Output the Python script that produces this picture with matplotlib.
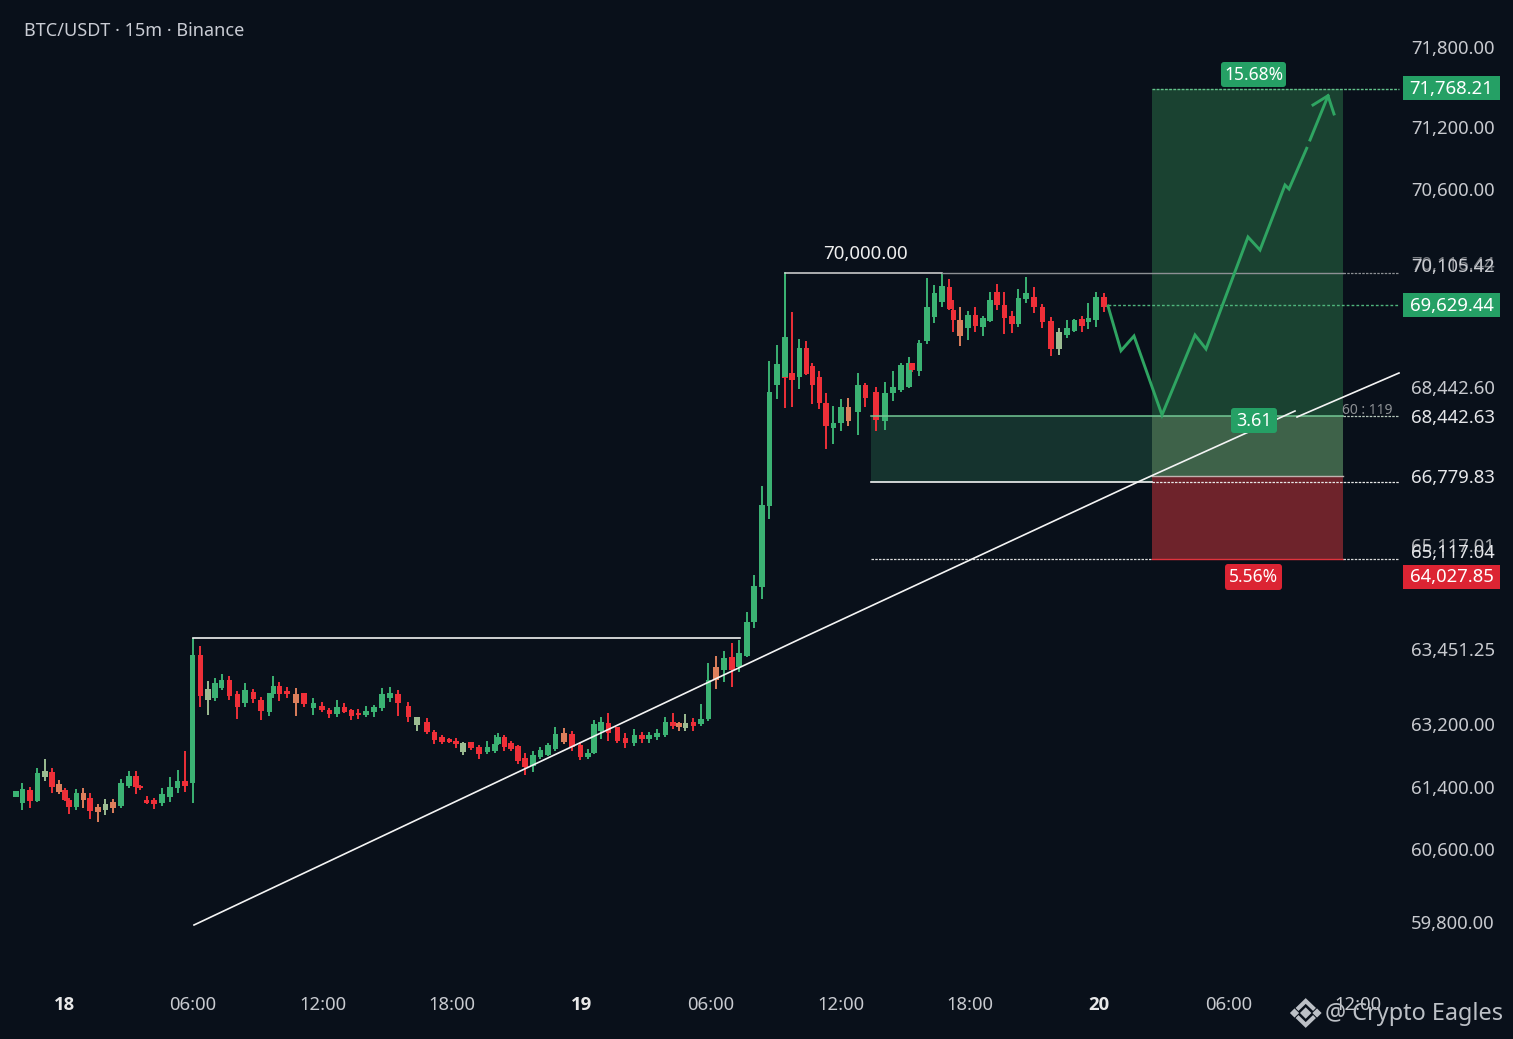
import matplotlib
matplotlib.use('Agg')
import matplotlib.pyplot as plt
from matplotlib.patches import Rectangle, FancyBboxPatch

plt.rcParams['font.family'] = ['Noto Sans', 'DejaVu Sans']

BG = '#09101a'
GREEN = '#3bb273'
RED = '#ee2f38'
ORANGE = '#dc7f5c'
PALE = '#9cbc92'
BADGE_GREEN = '#25a065'
BADGE_RED = '#dc2433'
TICK = '#c8cacf'

# The price scale in the picture is not even, so marks are kept in chart units
# (x along the time axis, y down the price axis) and ticks are labelled by name
candle_x = [15.7, 22.3, 30, 37.3, 44.7, 51.7, 58.7, 64.7, 69, 76.3, 83.3, 90, 97.7, 105.3, 113, 120.7, 128.7, 136, 140,
            146.7, 154, 162, 170, 177.7, 185, 192.7, 200.3, 208, 215, 221.7, 229.3, 237.3, 245, 253.3, 261, 269.3, 273.3,
            279.3, 286.7, 295.7, 304, 313.3, 321.7, 329.3, 337, 344.3, 351.3, 358.3, 366, 374, 382, 390, 398,
            408.3, 416.7, 426.7, 434.3, 442, 449.3, 456, 462.7, 471, 478.7, 487.3, 495, 497.7, 504.3, 511, 517.7, 524.7,
            532.7, 540.3, 548, 555.3, 564, 572, 580.3, 587.7, 594, 600.7, 608.3, 617.3, 625.3, 634.3, 641.7, 649, 657,
            665.3, 672.7, 678.7, 685.3, 693.3, 701, 708.3, 716, 723.7, 731.7, 739, 746.7, 754, 761.7, 769.3, 776.7,
            785, 785, 792, 799.3, 806.3, 812.3, 819.3, 826, 833.3, 840.7, 848.3, 858, 865.3, 876, 884.7, 892.7, 901,
            909, 911.7, 919.3, 926.7, 934.3, 942, 949.3, 953.3, 960, 967.7, 975.3, 982.7, 989.7, 996.7, 1004.3, 1011.7,
            1018.3, 1026, 1034, 1042.3, 1050.7, 1058.7, 1067, 1074.3, 1081.7, 1088.3, 1096, 1103.7]
wick_top = [790.7, 782.7, 786.7, 768, 759.3, 768.3, 780, 788.3, 798.3, 789.3, 788, 793, 804, 799.3, 799.3, 779.3, 770.7, 771, 785,
            796, 797.7, 787.7, 776.7, 770, 750.7, 638.3, 646, 681, 678.3, 674.3, 676, 690.7, 683.3, 689.3, 697.3, 692.7, 676,
            681.7, 687.3, 688.3, 692.7, 698.3, 702.3, 708.3, 700, 703.3, 709, 709, 705.7, 705, 687.7, 687.3, 690,
            701.7, 716.7, 718.3, 730, 735, 737.7, 738.3, 741.7, 741.7, 745, 740.7, 735, 732.7, 735, 741, 745, 752.7,
            750.7, 747.3, 743.3, 727.3, 728.3, 731, 741.7, 749.3, 720, 716.7, 712.7, 726.7, 733.3, 729.3, 731.7, 731.7, 729.3,
            717.3, 713.3, 721.7, 714, 717.7, 704.3, 663.3, 656, 650.7, 642.7, 640, 611.7, 575, 485.7, 361, 345,
            273.3, 376, 311.7, 339.3, 341, 362.7, 371, 392.7, 406, 399.3, 398.3, 372.7, 383.3, 386.7, 381.7, 371, 363.3,
            356.7, 363.3, 340, 278.3, 285, 273.3, 279.3, 300, 306.7, 310.7, 306.7, 316, 291.7, 284, 292.3, 311,
            289.3, 277.3, 286.7, 304, 317.3, 328.3, 320, 319.3, 316, 302.7, 291.7, 293.3]
body_top = [790.7, 789, 790, 772.7, 770.7, 771.7, 784, 790, 800, 793.3, 792.7, 798.3, 807.3, 804, 801.7, 783.3, 776, 776, 785.7,
            800, 800, 794, 786.7, 781, 780.7, 655, 655, 689.3, 683.3, 680, 680, 694, 690, 691.7, 700, 693.3, 686,
            686, 691.3, 694, 693.3, 703.3, 706, 710, 706.7, 707.3, 710, 712.7, 710.7, 707.3, 694.3, 693.3, 694,
            705.7, 717.3, 721.7, 732.3, 737.3, 738.7, 740.7, 742.7, 741.7, 746.7, 746.7, 744, 736.7, 736.7, 742.7, 746, 758.3,
            755, 750, 745, 734, 733.3, 734, 745, 752.7, 724, 722.3, 723.3, 727.3, 738.3, 735, 735, 735, 733.3,
            721.7, 721.7, 723.3, 722.7, 721.7, 719, 680, 666.7, 658.3, 656.7, 653.3, 621.7, 585.7, 505, 392, 364,
            337.3, 376.7, 372.7, 348.3, 348.3, 365.7, 377.3, 402.7, 423.3, 407.3, 406.7, 385.3, 385, 391.7, 392.7, 387.3, 365,
            363.3, 363.3, 343.3, 306.7, 293.3, 286, 287.3, 310, 320, 315, 315, 318.3, 300, 292.3, 305, 315.7,
            297.7, 292.7, 297.3, 307.3, 321, 332.3, 327.7, 320, 319.3, 317.7, 297.3, 297.3]
body_bot = [796.7, 803.3, 801, 801, 776.7, 787.3, 791.7, 800, 807.3, 807.3, 800, 810.7, 811.7, 810, 808.3, 805.7, 786, 786.7, 787.7,
            803.3, 804, 803.3, 796.7, 788.3, 785.7, 782.7, 696, 700, 698.3, 688.3, 696, 707.3, 703.3, 699.3, 711, 711.7, 694,
            694, 694, 702.7, 704, 707.7, 710, 714.3, 714, 711.7, 715.7, 715, 715, 711.7, 707.7, 697.7, 702.7,
            716.7, 725, 732.3, 740, 741.7, 742, 744, 751.7, 748.3, 754, 752.3, 751, 744, 746.7, 749.3, 760.7, 766.7,
            766, 757.3, 755, 749.3, 741.7, 747.3, 757.3, 756.7, 753.3, 731, 733.3, 740.7, 743.3, 742.7, 739.3, 739.3, 736.7,
            735, 726, 727.3, 727.7, 725.7, 724, 719.3, 680, 670, 670, 666.7, 656, 621.7, 586.7, 505.7, 385,
            376.7, 378, 380, 377.3, 374, 385, 402.7, 425.7, 427.7, 423.3, 421, 411.7, 398.3, 420, 421, 393.3, 390,
            386.7, 370, 370.7, 340.7, 317.3, 301.7, 309.3, 320, 336, 328.3, 326, 327.3, 321, 305, 318.3, 324.3,
            324.3, 299.3, 306.7, 322.3, 349, 349.3, 335, 331, 325.7, 322.3, 320, 306.7]
wick_bot = [796.7, 810, 807.7, 802.3, 781, 792.7, 794, 801, 814, 810, 808, 819, 821.7, 815, 812.7, 807.7, 788.3, 794.3, 790,
            804, 809.3, 806, 801.7, 793.3, 791.7, 802.7, 706.7, 715, 700.7, 690, 700, 719.3, 707.3, 702.7, 720, 715.7, 697.7,
            701, 698.3, 715.7, 707.3, 715, 711.7, 717.7, 717.3, 712.7, 720, 719.3, 717.3, 716.7, 711, 701.7, 716,
            721.7, 730.7, 734, 744.3, 744.3, 743.3, 748.3, 755, 750, 759.3, 754, 753.3, 745, 750.7, 750.7, 764, 775,
            771.7, 759.3, 756, 751, 744, 750.7, 760, 759.3, 754, 739.3, 740.7, 742.7, 748.3, 746, 743.3, 742.7, 740,
            736.7, 729.3, 730.7, 730.7, 730.7, 725.7, 720.7, 689, 682.3, 686.7, 671.7, 656.7, 628, 599.3, 519.3, 399.3,
            378, 407.7, 406.7, 389.3, 375, 404, 409.3, 449, 444, 431, 426, 435, 406.7, 430.7, 430, 401, 391.7,
            387.7, 372, 376, 344, 323.3, 306.7, 310, 332, 346, 340, 331.7, 336, 321.7, 310, 334.3, 333.3,
            326.7, 302.7, 313.3, 328.3, 356, 355, 338.3, 331.7, 331.7, 329.3, 326.7, 311.7]
candle_kind = list('GGRGPRORRGOROPOGGRR'
                   'RRGGGRGRPGGRRGRRGG'
                   'RRORGRRGRRRGGGGR'
                   'RPRRRRRPRRGGGRRRR'
                   'GGGGORRGGGRRRGRGG'
                   'GROPRGGOGRGGGGGG'
                   'GRRGRRRRGGOGRRGGG'
                   'GRGGGGRROGRGGRRR'
                   'GGRRRPGGRGGR')

# y-axis labels and their rows
ytick_pos = [47, 127, 189, 265, 387, 416, 476, 551, 649, 724, 787, 849, 922]
ytick_lab = ['71,800.00', '71,200.00', '70,600.00', '70,105.42', '68,442.60', '68,442.63', '66,779.83',
             '65,117.04', '63,451.25', '63,200.00', '61,400.00', '60,600.00', '59,800.00']
xtick_pos = [64, 193, 323, 452, 582, 711, 841, 970, 1099, 1229, 1358]
xtick_lab = ['18', '06:00', '12:00', '18:00', '19', '06:00', '12:00', '18:00', '20', '06:00', '12:00']

path_x = [1108, 1121, 1134, 1162, 1195, 1206, 1248, 1260, 1285, 1289, 1306.7]
path_y = [306, 350.7, 336, 415, 335, 349, 237, 250, 185, 189, 148.3]
path2_x = [1310, 1328]
path2_y = [140, 96]
head_x = [1313, 1328, 1334]
head_y = [105, 95.7, 114]
trend_x = [194, 800, 1140, 1295]
trend_y = [925, 639, 481, 411]
trend2_x = [1297, 1399]
trend2_y = [417, 373]

fig = plt.figure(figsize=(15.13, 10.39), dpi=100, facecolor=BG)
ax = fig.add_axes([0, 1 - 985 / 1039, 1400 / 1513, 985 / 1039], facecolor=BG)
ax.set_xlim(0, 1400)
ax.set_ylim(985, 0)
for s in ax.spines.values():
    s.set_visible(False)

# zones
ax.add_patch(Rectangle((871, 416), 281, 66, fc='#15332e', ec='none', zorder=1))
ax.add_patch(Rectangle((1152, 89), 191, 327, fc='#1a4231', ec='none', zorder=1))
ax.add_patch(Rectangle((1152, 416), 191, 60, fc='#3e6249', ec='none', zorder=1))
ax.add_patch(Rectangle((1152, 476), 191, 83, fc='#6e232b', ec='none', zorder=1))

# candles
colors = {'G': GREEN, 'R': RED, 'O': ORANGE, 'P': PALE}
cols = [colors[k] for k in candle_kind]
ax.vlines(candle_x, wick_top, wick_bot, colors=cols, lw=1.4, zorder=3)
heights = [b - t for t, b in zip(body_top, body_bot)]
ax.bar(candle_x, heights, bottom=body_top, width=5.6, color=cols, lw=0, zorder=3)

# levels
ax.plot([193, 740], [638, 638], color='#f2f2f2', lw=1.2, zorder=4)
ax.plot([785, 785], [273, 340], color=GREEN, lw=1.3, zorder=2)
ax.plot([785, 942], [273, 273], color='#d8d8d8', lw=1.1, zorder=4)
ax.plot([942, 1343], [273, 273], color='#8d9094', lw=1, zorder=4)
ax.plot([1343, 1399], [273, 273], color='#8d9094', lw=0.9, ls=(0, (2, 1)), zorder=4)
ax.plot([871, 1343], [416, 416], color='#74c895', lw=1.1, zorder=4)
ax.plot([1343, 1399], [416, 416], color='#b8c8bc', lw=0.9, ls=(0, (2, 1)), zorder=4)
ax.plot([871, 1152], [482, 482], color='#f2f2f2', lw=1.2, zorder=4)
ax.plot([1152, 1399], [482, 482], color='#e8e8e8', lw=0.9, ls=(0, (2, 1)), zorder=4)
ax.plot([1152, 1343], [476, 476], color='#c0b4b0', lw=1, zorder=4)
ax.plot([871, 1152], [559, 559], color='#d8d8d8', lw=0.9, ls=(0, (2, 1)), zorder=4)
ax.plot([1152, 1343], [559, 559], color='#e0333d', lw=1, zorder=4)
ax.plot([1343, 1399], [559, 559], color='#d8d8d8', lw=0.9, ls=(0, (2, 1)), zorder=4)
ax.plot([1152, 1399], [89, 89], color='#62c08a', lw=1, ls=(0, (2, 1)), zorder=4)
ax.plot([1108, 1399], [305, 305], color='#4fb57c', lw=1, ls=(0, (2, 1.5)), zorder=4)

# trend line and projection
ax.plot(trend_x, trend_y, color='#f4f4f4', lw=1.2, zorder=5)
ax.plot(trend2_x, trend2_y, color='#f4f4f4', lw=1.2, zorder=5)
ax.plot(path_x, path_y, color='#2fa562', lw=2.1, solid_joinstyle='miter', zorder=6)
ax.plot(path2_x, path2_y, color='#2fa562', lw=2.1, zorder=6)
ax.plot(head_x, head_y, color='#2fa562', lw=2.1, solid_joinstyle='miter', zorder=6)

# ticks
ax.yaxis.tick_right()
ax.set_yticks(ytick_pos)
ax.set_yticklabels(ytick_lab)
ax.set_xticks(xtick_pos)
ax.set_xticklabels(xtick_lab)
ax.tick_params(axis='y', length=0, pad=8, labelsize=13.3, colors=TICK)
ax.tick_params(axis='x', length=0, pad=8, labelsize=13.3, colors=TICK)
for lab in ax.get_xticklabels():
    if ':' not in lab.get_text():
        # Noto Sans comes without a bold face here
        lab.set_fontfamily('Open Sans')
        lab.set_fontweight('bold')
        lab.set_color('#e8e8e8')
for lab in ax.get_yticklabels():
    if lab.get_text() in ('68,442.63', '66,779.83', '65,117.04'):
        lab.set_color('#e6e7ea')

# ghost labels sitting behind the crowded rows
ax.text(1411, 264.5, '70,116.44', color='#7a7d82', fontsize=13.3, va='center', clip_on=False, zorder=1)
ax.text(1411, 546.5, '65,117.01', color='#a9acb0', fontsize=13.3, va='center', clip_on=False, zorder=1)
ax.text(1342, 411, '60 : 119', color='#8d9094', fontsize=10, va='center', clip_on=False, zorder=4)


def price_badge(y, txt, col):
    ax.add_patch(Rectangle((1403, y - 12), 97, 24, fc=col, ec='none', clip_on=False, zorder=7))
    ax.text(1451.5, y + 1, txt, color='white', fontsize=13.3, ha='center', va='center', clip_on=False, zorder=8)


def pill(x0, x1, y0, y1, txt, col, size=12.5):
    ax.add_patch(FancyBboxPatch((x0 + 3, y0 + 3), x1 - x0 - 6, y1 - y0 - 6, boxstyle='round,pad=3,rounding_size=3',
                                fc=col, ec='none', zorder=7))
    ax.text((x0 + x1) / 2, (y0 + y1) / 2, txt, color='white', fontsize=size, ha='center', va='center', zorder=8)


price_badge(88, '71,768.21', BADGE_GREEN)
price_badge(305, '69,629.44', BADGE_GREEN)
price_badge(576.5, '64,027.85', BADGE_RED)
pill(1221, 1286, 62, 87, '15.68%', BADGE_GREEN)
pill(1231, 1277, 408, 433, '3.61', BADGE_GREEN, 13)
pill(1225, 1282, 564, 590, '5.56%', BADGE_RED)

ax.text(865, 254, '70,000.00', color='#eeeeee', fontsize=13.5, ha='center', va='center')
ax.text(24, 31, 'BTC/USDT · 15m · Binance', color='#c9ccd4', fontsize=13, va='center')

# watermark
WM = '#bcc0c6'
fig.text(1325 / 1513, 1 - 1014 / 1039, '@ Crypto Eagles', color=WM, fontsize=16.9, va='center')
logo = fig.add_axes([0, 0, 1, 1], facecolor='none')
logo.set_xlim(0, 1513)
logo.set_ylim(1039, 0)
logo.axis('off')
logo.scatter([1305.7, 1294.5, 1317], [1013, 1013, 1013], marker='D', s=[34, 22, 22], color=WM, lw=0)
logo.plot([1298.5, 1305.7, 1313], [1008, 1001, 1008], color=WM, lw=3, solid_joinstyle='miter')
logo.plot([1298.5, 1305.7, 1313], [1018, 1025, 1018], color=WM, lw=3, solid_joinstyle='miter')

fig.savefig('out.png', dpi=100, facecolor=BG)
